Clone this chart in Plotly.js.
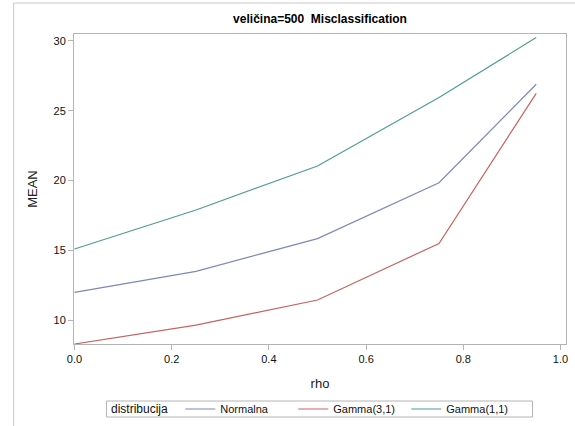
<!DOCTYPE html>
<html>
<head>
<meta charset="utf-8">
<script src="https://cdn.plot.ly/plotly-3.0.1.min.js"></script>
<style>html,body{margin:0;padding:0;background:#fff;}#chart{width:575px;height:426px;}</style>
</head>
<body>
<div id="chart"></div>
<script>
var rho = [0, 0.25, 0.5, 0.75, 0.95];
var normalna = [12.0, 13.5, 15.85, 19.85, 26.9];
var gamma31 = [8.3, 9.65, 11.45, 15.5, 26.25];
var gamma11 = [15.1, 17.9, 21.05, 25.95, 30.25];
var seriesNames = ["Normalna", "Gamma(3,1)", "Gamma(1,1)"];
var seriesColors = ["#7C88BF", "#C8635E", "#4E9D94"];
var seriesValues = [normalna, gamma31, gamma11];
var legendTitle = "distribucija";

var traces = seriesValues.map(function (v, i) {
  return {
    x: rho, y: v, type: "scatter", mode: "lines", name: seriesNames[i],
    line: {color: seriesColors[i], width: 1.2}
  };
});

var axisCommon = {
  showgrid: false, zeroline: false, showline: true, mirror: true,
  linecolor: "#B4B4B4", linewidth: 1, ticks: "outside", ticklen: 5,
  tickcolor: "#B4B4B4", tickfont: {family: "Liberation Sans, Arial", size: 11, color: "#111"}
};

var W = 493, H = 310, L = 73.5, T = 34;
function px(x) { return (x - L) / W; }
function py(y) { return 1 - (y - T) / H; }

var layout = {
  width: 575, height: 426,
  margin: {l: 73.5, r: 8.5, t: 34, b: 82, autoexpand: false},
  paper_bgcolor: "#fff", plot_bgcolor: "#fff",
  font: {family: "Liberation Sans, Arial", color: "#111"},
  title: {text: "<b>veličina=500  Misclassification</b>", font: {size: 12, color: "#000"},
          x: 0.5, xref: "paper", xanchor: "center", y: 1 - 19/426, yanchor: "middle"},
  xaxis: Object.assign({}, axisCommon, {
    range: [-0.001, 1.0113], tickvals: [0, 0.2, 0.4, 0.6, 0.8, 1.0],
    ticktext: ["0.0", "0.2", "0.4", "0.6", "0.8", "1.0"],
    title: {text: "rho", font: {size: 13, color: "#222"}, standoff: 14}
  }),
  yaxis: Object.assign({}, axisCommon, {
    range: [8.3, 30.5], tickvals: [10, 15, 20, 25, 30],
    title: {text: "MEAN", font: {size: 13, color: "#222"}, standoff: 12}
  }),
  showlegend: true,
  legend: {
    orientation: "h", x: px(180), xanchor: "left", y: py(409), yanchor: "middle",
    borderwidth: 0, bgcolor: "rgba(0,0,0,0)",
    font: {size: 11, color: "#111"},
    entrywidth: 68, entrywidthmode: "pixels", tracegroupgap: 0, valign: "middle"
  },
  annotations: [
    {text: legendTitle, xref: "paper", yref: "paper", x: px(109), y: py(409), xanchor: "left", yanchor: "middle",
     showarrow: false, font: {size: 12, color: "#111"}}
  ],
  shapes: [
    {type: "rect", xref: "paper", yref: "paper", x0: px(106), x1: px(533), y0: py(417), y1: py(401), line: {color: "#B4B4B4", width: 1}, layer: "below"},
    {type: "line", xref: "paper", yref: "paper", x0: px(13), x1: px(13), y0: py(3), y1: py(430), line: {color: "#C8C8C8", width: 1}},
    {type: "line", xref: "paper", yref: "paper", x0: px(13), x1: px(580), y0: py(3), y1: py(3), line: {color: "#C8C8C8", width: 1}}
  ]
};

Plotly.newPlot("chart", traces, layout, {displayModeBar: false, staticPlot: true});
</script>
</body>
</html>
